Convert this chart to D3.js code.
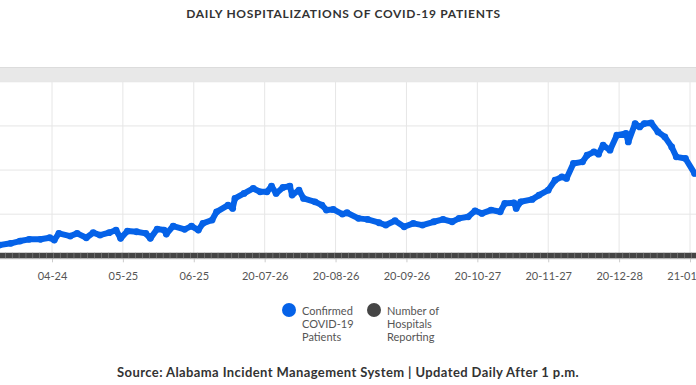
<!DOCTYPE html>
<html>
<head>
<meta charset="utf-8">
<script src="https://cdn.jsdelivr.net/npm/d3@7"></script>
<style>
  html, body { margin: 0; padding: 0; background: #fff; }
  svg { display: block; }
  text { font-family: Lato, "Open Sans", sans-serif; }
</style>
</head>
<body>
<svg id="chart" width="696" height="385"></svg>
<script>
// ---- data ----
const patientDates = ["2020-04-01","2020-04-06","2020-04-10","2020-04-14","2020-04-19","2020-04-23","2020-04-25","2020-04-27","2020-05-02","2020-05-05",
"2020-05-09","2020-05-12","2020-05-15","2020-05-19","2020-05-22","2020-05-24","2020-05-27","2020-05-31","2020-06-04","2020-06-06",
"2020-06-09","2020-06-12","2020-06-13","2020-06-16","2020-06-21","2020-06-24","2020-06-27","2020-06-29","2020-07-03","2020-07-05",
"2020-07-10","2020-07-12","2020-07-13","2020-07-17","2020-07-21","2020-07-24","2020-07-27","2020-07-29","2020-07-31","2020-08-03",
"2020-08-06","2020-08-07","2020-08-10","2020-08-12","2020-08-17","2020-08-20","2020-08-22","2020-08-25","2020-08-29","2020-08-31",
"2020-09-05","2020-09-09","2020-09-14","2020-09-17","2020-09-21","2020-09-25","2020-09-29","2020-10-03","2020-10-08","2020-10-12",
"2020-10-16","2020-10-19","2020-10-23","2020-10-26","2020-10-29","2020-11-02","2020-11-06","2020-11-08","2020-11-12","2020-11-13",
"2020-11-15","2020-11-20","2020-11-23","2020-11-27","2020-11-30","2020-12-03","2020-12-05","2020-12-08","2020-12-12","2020-12-14",
"2020-12-17","2020-12-19","2020-12-21","2020-12-24","2020-12-27","2020-12-31","2021-01-01","2021-01-04","2021-01-06","2021-01-08",
"2021-01-11","2021-01-14","2021-01-17","2021-01-20","2021-01-22","2021-01-26","2021-01-30"];
const patientValues = [301,339,391,430,430,466,414,565,504,565,
466,580,527,580,640,452,618,602,565,452,
663,640,550,731,656,730,640,792,867,1054,
1206,1131,1357,1470,1583,1507,1507,1636,1470,1606,
1636,1432,1545,1357,1281,1206,1093,1108,1002,1032,
905,882,806,753,851,715,792,753,828,882,
828,905,941,1077,1018,1093,1054,1244,1258,1131,
1281,1335,1432,1545,1771,1846,1810,2149,2186,2337,
2412,2360,2563,2450,2790,2828,2638,3054,2977,3054,
3068,2864,2751,2525,2299,2262,1923];

const hospitalStart = "2020-04-01";
const hospitalStepDays = 3;
const hospitalValues = [64,64,63,64,64,64,63,64,64,64,
64,63,64,64,64,64,63,64,64,64,
64,64,63,64,64,64,64,64,63,64,
64,64,64,63,64,64,64,64,64,64,
63,64,64,64,64,64,63,64,64,64,
64,64,64,63,64,64,64,64,64,64,
63,64,64,64,64,64,64,63,64,64,
64,64,64,64,63,64,64,64,64,64,
64,63,64,64,64,64,64,64,63,64,
64,64,64,64,63,64,64,64,64,64,
64,64,64];

const tickDates = ["2020-04-24","2020-05-25","2020-06-25","2020-07-26","2020-08-26","2020-09-26","2020-10-27","2020-11-27","2020-12-28","2021-01-28"];
const tickLabels = ["04-24","05-25","06-25","20-07-26","20-08-26","20-09-26","20-10-27","20-11-27","20-12-28","21-01-28"];
const yTicks = [0,1000,2000,3000,4000];

const seriesNames = [["Confirmed","COVID-19","Patients"],["Number of","Hospitals","Reporting"]];
const seriesColors = ["#0562e8","#454545"];
const titleText = "DAILY HOSPITALIZATIONS OF COVID-19 PATIENTS";
const sourceText = "Source: Alabama Incident Management System | Updated Daily After 1 p.m.";

// ---- drawing ----
const parse = d3.utcParse("%Y-%m-%d");
const svg = d3.select("#chart");
const W = 696;

const x = d3.scaleUtc()
  .domain([parse(tickDates[0]), parse(tickDates[tickDates.length-1])])
  .range([52, 690]);
const y = d3.scaleLinear().domain([0, 4000]).range([258.3, 81.8]);

svg.append("text").attr("x", 343.5).attr("y", 18.3).attr("text-anchor", "middle")
  .attr("font-size", 12).attr("font-weight", 700).attr("letter-spacing", 0.7)
  .attr("fill", "#333").text(titleText);

// grey band above plot
svg.append("rect").attr("x", 0).attr("y", 67).attr("width", W).attr("height", 14.8).attr("fill", "#e8e8e8");
svg.append("line").attr("x1", 0).attr("x2", W).attr("y1", 67.5).attr("y2", 67.5).attr("stroke", "#dcdcdc");

const plot = svg.append("g");
const clip = svg.append("clipPath").attr("id", "clip").append("rect")
  .attr("x", 0).attr("y", 60).attr("width", W).attr("height", 220);

// horizontal gridlines
plot.selectAll("line.hg").data(yTicks.slice(1)).join("line").attr("class", "hg")
  .attr("x1", 0).attr("x2", W).attr("y1", d => y(d)).attr("y2", d => y(d))
  .attr("stroke", "#e6e6e6").attr("stroke-width", 1);

// vertical gridlines
const tDates = tickDates.map(parse);
plot.selectAll("line.vg").data(tDates).join("line").attr("class", "vg")
  .attr("x1", d => x(d)).attr("x2", d => x(d)).attr("y1", y(4000)).attr("y2", y(0))
  .attr("stroke", "#e6e6e6").attr("stroke-width", 1);

// x axis
const xAxis = d3.axisBottom(x).tickValues(tDates).tickSize(4).tickPadding(10)
  .tickFormat((d, i) => tickLabels[i]);
const ax = svg.append("g").attr("transform", `translate(0,${y(0)})`).call(xAxis);
ax.select(".domain").attr("stroke", "#ccc").attr("d", `M0,0.5H${W}`);
ax.selectAll(".tick line").attr("stroke", "#ccc");
ax.selectAll(".tick text").attr("fill", "#555").attr("font-size", 11)
  .attr("font-family", "Lato, 'Open Sans', sans-serif");

const g = svg.append("g").attr("clip-path", "url(#clip)");

// hospitals series
const hosp = hospitalValues.map((v, i) => ({ d: d3.utcDay.offset(parse(hospitalStart), i * hospitalStepDays), v }));
const lineGen = d3.line().x(p => x(p.d)).y(p => y(p.v));
g.append("path").datum(hosp).attr("d", lineGen).attr("fill", "none")
  .attr("stroke", seriesColors[1]).attr("stroke-width", 5.5);
g.selectAll("rect.hm").data(hosp).join("rect").attr("class", "hm")
  .attr("x", p => x(p.d) - 1.2).attr("y", p => y(p.v) - 2.8).attr("width", 0.6).attr("height", 5.6)
  .attr("fill", "#888");

// patients series
const pts = patientDates.map((d, i) => ({ d: parse(d), v: patientValues[i] }));
g.append("path").datum(pts).attr("d", lineGen).attr("fill", "none")
  .attr("stroke", seriesColors[0]).attr("stroke-width", 6)
  .attr("stroke-linejoin", "round").attr("stroke-linecap", "round");
g.selectAll("circle.pm").data(pts).join("circle").attr("class", "pm")
  .attr("cx", p => x(p.d)).attr("cy", p => y(p.v)).attr("r", 3.4)
  .attr("fill", seriesColors[0]);

// legend
const legX = [289, 374];
seriesNames.forEach((lines, i) => {
  svg.append("circle").attr("cx", legX[i]).attr("cy", 310).attr("r", 7).attr("fill", seriesColors[i]);
  const t = svg.append("text").attr("x", legX[i] + 13).attr("y", 314.5)
    .attr("font-size", 11).attr("fill", "#555");
  lines.forEach((l, j) => t.append("tspan").attr("x", legX[i] + 13).attr("dy", j === 0 ? 0 : 13).text(l));
});

svg.append("text").attr("x", 348).attr("y", 377).attr("text-anchor", "middle")
  .attr("font-size", 13).attr("font-weight", 700).attr("letter-spacing", 0.4)
  .attr("fill", "#333").text(sourceText);
</script>
</body>
</html>
